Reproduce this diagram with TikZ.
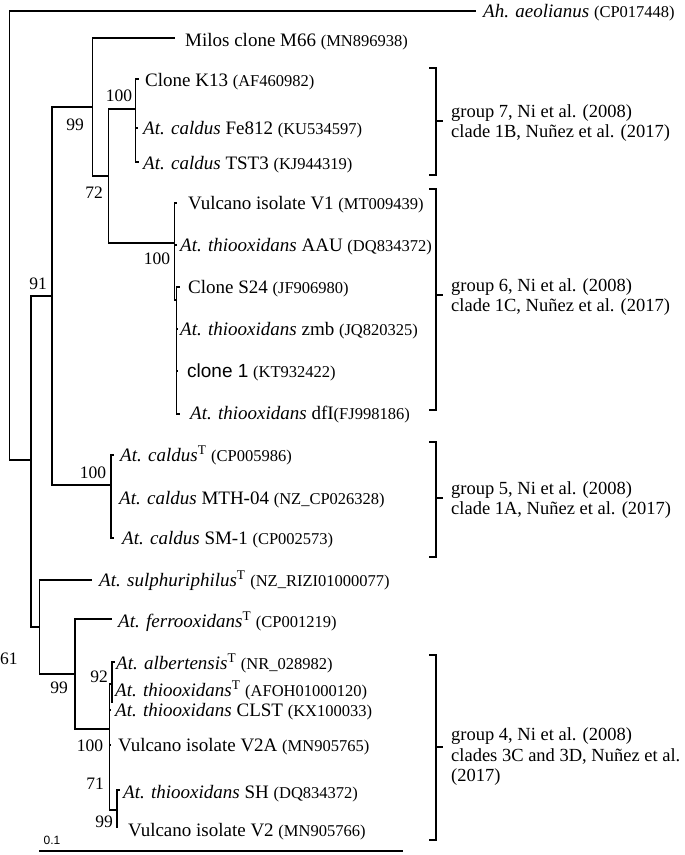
\documentclass[tikz,border=0pt]{standalone}
\usepackage{fontspec}
\setmainfont{Liberation Serif}
\newfontfamily\arialfont{Liberation Sans}
\newcommand\accn[1]{{\fontsize{16.5}{18}\selectfont #1}}
\begin{document}
\begin{tikzpicture}[x=1pt,y=-1pt,
  br/.style={line width=1.1pt, line join=miter},
  brk/.style={line width=1.8pt, line join=miter},
  leaf/.style={anchor=base west, inner sep=0pt, font=\fontsize{19}{21}\selectfont},
  boot/.style={anchor=base, inner sep=0pt, font=\fontsize{17.5}{19}\selectfont},
  grp/.style={anchor=west, align=left, inner sep=0pt, font=\fontsize{18.5}{20.5}\selectfont}]
\useasboundingbox (0,0) rectangle (685,855);
% ---- internal nodes and tips
\coordinate (R) at (9.5,235);
\coordinate (tAh) at (476,11);
\coordinate (A) at (31,460);
\coordinate (B) at (52,296);
\coordinate (C) at (39.5,627);
\coordinate (D) at (92.5,107);
\coordinate (G5) at (111,485);
\coordinate (tMil) at (175,38);
\coordinate (F) at (108.5,176);
\coordinate (G7) at (135.5,109);
\coordinate (G6) at (174.5,243);
\coordinate (tK13) at (138.5,79);
\coordinate (tFe) at (137.5,128);
\coordinate (tTST) at (139,162);
\coordinate (tV1) at (177,203);
\coordinate (tAAU) at (177,245);
\coordinate (H2) at (176.5,300);
\coordinate (tS24) at (179.5,287);
\coordinate (tZmb) at (177,329);
\coordinate (tCl1) at (177,371);
\coordinate (tDfl) at (180,414);
\coordinate (tCT) at (114,455);
\coordinate (tMTH) at (112,498);
\coordinate (tSM) at (113.5,538);
\coordinate (tSul) at (92,580);
\coordinate (E) at (75,674);
\coordinate (tFer) at (112,619);
\coordinate (I) at (109.5,729);
\coordinate (J) at (112,684);
\coordinate (tAlb) at (115,662);
\coordinate (tThT) at (112.5,702);
\coordinate (tCL) at (110,710);
\coordinate (tV2A) at (110,745);
\coordinate (K) at (117,810);
\coordinate (tSH) at (120,790);
\coordinate (tV2) at (117,828);
% ---- branches
\draw[br] (R) |- (tAh);
\draw[br] (R) |- (A);
\draw[br] (A) |- (B);
\draw[br] (A) |- (C);
\draw[br] (B) |- (D);
\draw[br] (B) |- (G5);
\draw[br] (D) |- (tMil);
\draw[br] (D) |- (F);
\draw[br] (F) |- (G7);
\draw[br] (F) |- (G6);
\draw[br] (G7) |- (tK13);
\draw[br] (G7) |- (tFe);
\draw[br] (G7) |- (tTST);
\draw[br] (G6) |- (tV1);
\draw[br] (G6) |- (tAAU);
\draw[br] (G6) |- (H2);
\draw[br] (H2) |- (tS24);
\draw[br] (H2) |- (tZmb);
\draw[br] (H2) |- (tCl1);
\draw[br] (H2) |- (tDfl);
\draw[br] (G5) |- (tCT);
\draw[br] (G5) |- (tMTH);
\draw[br] (G5) |- (tSM);
\draw[br] (C) |- (tSul);
\draw[br] (C) |- (E);
\draw[br] (E) |- (tFer);
\draw[br] (E) |- (I);
\draw[br] (I) |- (J);
\draw[br] (I) |- (tCL);
\draw[br] (I) |- (tV2A);
\draw[br] (I) |- (K);
\draw[br] (J) |- (tAlb);
\draw[br] (J) |- (tThT);
\draw[br] (K) |- (tSH);
\draw[br] (K) |- (tV2);
% ---- leaf labels
\node[leaf] (lAh) at (483,17.5) {\textit{Ah. aeolianus} \accn{(CP017448)}};
\node[leaf] (lMil) at (185,46) {Milos clone M66 \accn{(MN896938)}};
\node[leaf] (lK13) at (145,86) {Clone K13 \accn{(AF460982)}};
\node[leaf] (lFe) at (143,134) {\textit{At. caldus} Fe812 \accn{(KU534597)}};
\node[leaf] (lTST) at (143,169) {\textit{At. caldus} TST3 \accn{(KJ944319)}};
\node[leaf] (lV1) at (188,209) {Vulcano isolate V1 \accn{(MT009439)}};
\node[leaf] (lAAU) at (180,251) {\textit{At. thiooxidans} AAU \accn{(DQ834372)}};
\node[leaf] (lS24) at (188,293) {Clone S24 \accn{(JF906980)}};
\node[leaf] (lZmb) at (180,335) {\textit{At. thiooxidans} zmb \accn{(JQ820325)}};
\node[leaf] (lCl1) at (187,377) {{\arialfont clone 1} \accn{(KT932422)}};
\node[leaf] (lDfl) at (190,419) {\textit{At. thiooxidans} dfI\accn{(FJ998186)}};
\node[leaf] (lCT) at (120,461) {\textit{At. caldus}\textsuperscript{T} \accn{(CP005986)}};
\node[leaf] (lMTH) at (119,504) {\textit{At. caldus} MTH-04 \accn{(NZ\_CP026328)}};
\node[leaf] (lSM) at (122,544) {\textit{At. caldus} SM-1 \accn{(CP002573)}};
\node[leaf] (lSul) at (99,586) {\textit{At. sulphuriphilus}\textsuperscript{T} \accn{(NZ\_RIZI01000077)}};
\node[leaf] (lFer) at (118,627) {\textit{At. ferrooxidans}\textsuperscript{T} \accn{(CP001219)}};
\node[leaf] (lAlb) at (116,669) {\textit{At. albertensis}\textsuperscript{T} \accn{(NR\_028982)}};
\node[leaf] (lThT) at (115,696) {\textit{At. thiooxidans}\textsuperscript{T} \accn{(AFOH01000120)}};
\node[leaf] (lCL) at (115,716) {\textit{At. thiooxidans} CLST \accn{(KX100033)}};
\node[leaf] (lV2A) at (118,751) {Vulcano isolate V2A \accn{(MN905765)}};
\node[leaf] (lSH) at (123,798) {\textit{At. thiooxidans} SH \accn{(DQ834372)}};
\node[leaf] (lV2) at (128,836) {Vulcano isolate V2 \accn{(MN905766)}};
% ---- bootstrap values
\node[boot] (b1) at (75,130) {99};
\node[boot] (b2) at (119,101) {100};
\node[boot] (b3) at (94,198) {72};
\node[boot] (b4) at (38,289) {91};
\node[boot] (b5) at (157,264) {100};
\node[boot] (b6) at (93,478) {100};
\node[boot] (b7) at (9,664) {61};
\node[boot] (b8) at (59,693) {99};
\node[boot] (b9) at (99,682) {92};
\node[boot] (b10) at (90,751) {100};
\node[boot] (b11) at (95,789) {71};
\node[boot] (b12) at (104,827) {99};
% ---- scale bar
\coordinate (s1) at (39,851);
\coordinate (s2) at (403,851);
\draw[line width=1.3pt] (s1) -- (s2);
\node[inner sep=0pt, font=\arialfont\fontsize{12}{14}\selectfont] (sl) at (52,840) {0.1};
% ---- brackets
\coordinate (k7t) at (436,68); \coordinate (k7b) at (436,175); \coordinate (k7m) at (436,121);
\draw[brk] ([xshift=-7pt]k7t) -- (k7t) -- (k7b) -- ([xshift=-7pt]k7b);
\draw[brk] (k7m) -- ([xshift=7pt]k7m);
\node[grp] (g7) at (451,123) {group 7, Ni et al. (2008)\\clade 1B, Nuñez et al. (2017)};
\coordinate (k6t) at (436,189); \coordinate (k6b) at (436,410); \coordinate (k6m) at (436,295);
\draw[brk] ([xshift=-7pt]k6t) -- (k6t) -- (k6b) -- ([xshift=-7pt]k6b);
\draw[brk] (k6m) -- ([xshift=7pt]k6m);
\node[grp] (g6) at (451,297) {group 6, Ni et al. (2008)\\clade 1C, Nuñez et al. (2017)};
\coordinate (k5t) at (436,442); \coordinate (k5b) at (436,557); \coordinate (k5m) at (436,498);
\draw[brk] ([xshift=-7pt]k5t) -- (k5t) -- (k5b) -- ([xshift=-7pt]k5b);
\draw[brk] (k5m) -- ([xshift=7pt]k5m);
\node[grp] (g5) at (451,500) {group 5, Ni et al. (2008)\\clade 1A, Nuñez et al. (2017)};
\coordinate (k4t) at (436,655); \coordinate (k4b) at (436,840); \coordinate (k4m) at (436,747);
\draw[brk] ([xshift=-7pt]k4t) -- (k4t) -- (k4b) -- ([xshift=-7pt]k4b);
\draw[brk] (k4m) -- ([xshift=7pt]k4m);
\node[grp] (g4) at (451,757) {group 4, Ni et al. (2008)\\clades 3C and 3D, Nuñez et al.\\(2017)};
\end{tikzpicture}
\end{document}
